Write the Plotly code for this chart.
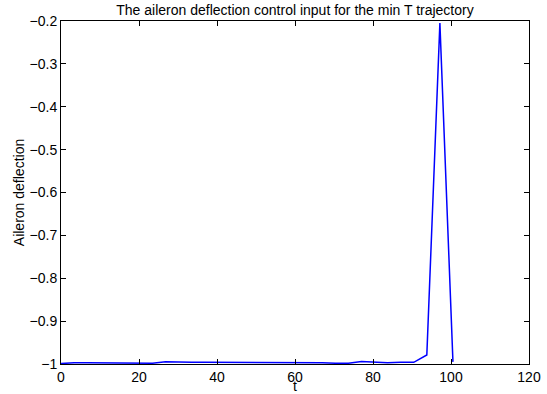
import plotly.graph_objects as go

t = [0.0, 3.35, 6.7, 10.05, 13.4, 16.75, 20.1, 23.45, 26.8, 30.15, 33.5, 36.85,
     40.2, 43.55, 46.9, 50.25, 53.6, 56.95, 60.3, 63.65, 67.0, 70.35, 73.7,
     77.05, 80.4, 83.75, 87.1, 90.45, 93.8, 97.15, 100.5]
aileron = [-0.999, -0.997, -0.997, -0.997, -0.998, -0.998, -0.998, -0.998, -0.995,
           -0.996, -0.996, -0.996, -0.996, -0.996, -0.996, -0.997, -0.996, -0.996,
           -0.996, -0.997, -0.997, -0.998, -0.998, -0.994, -0.996, -0.997, -0.996,
           -0.996, -0.979, -0.205, -0.995]

x_ticks = [0, 20, 40, 60, 80, 100, 120]
y_ticks = [-1, -0.9, -0.8, -0.7, -0.6, -0.5, -0.4, -0.3, -0.2]
y_labels = ["\u22121", "\u22120.9", "\u22120.8", "\u22120.7", "\u22120.6", "\u22120.5",
            "\u22120.4", "\u22120.3", "\u22120.2"]

fig = go.Figure()
fig.add_trace(go.Scatter(x=t, y=aileron, mode="lines",
                         line=dict(color="rgb(0,0,255)", width=1.5),
                         showlegend=False))

axis_common = dict(showgrid=False, zeroline=False, showline=True, linecolor="black",
                   linewidth=1, mirror="ticks", ticks="inside", ticklen=5,
                   tickcolor="black", automargin=False,
                   tickfont=dict(size=14, color="black"))

fig.update_layout(
    width=547, height=394,
    margin=dict(l=61, r=18, t=21, b=30),
    paper_bgcolor="white", plot_bgcolor="white",
    font=dict(family="Liberation Sans, Arial, sans-serif", size=14, color="black"),
    title=dict(text="The aileron deflection control input for the min T trajectory",
               xref="paper", x=0.5, xanchor="center", y=0.975, yanchor="middle",
               font=dict(size=14, color="black")),
    xaxis=dict(range=[0, 120], tickvals=x_ticks, ticklabelstandoff=0,
               title=dict(text="t", standoff=0, font=dict(size=14)), **axis_common),
    yaxis=dict(range=[-1, -0.2], tickvals=y_ticks, ticktext=y_labels,
               title=dict(text="Aileron deflection", standoff=1, font=dict(size=14)),
               **axis_common),
)

fig.write_html("out.html", config={"displayModeBar": False},
               post_script="document.body.style.margin='0';document.body.style.padding='0';document.body.style.overflow='hidden';")
